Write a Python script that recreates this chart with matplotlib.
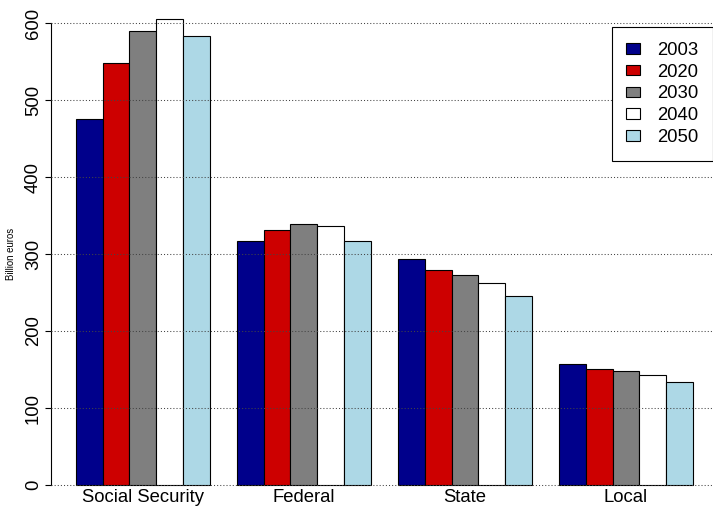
import numpy as np
import matplotlib
matplotlib.use("Agg")
import matplotlib.pyplot as plt
from matplotlib.patches import Patch

plt.rcParams["font.family"] = ["Liberation Sans", "DejaVu Sans"]

# spending by level of government, billion euros
categories = ["Social Security", "Federal", "State", "Local"]
years = ["2003", "2020", "2030", "2040", "2050"]
v2003 = [476, 317, 294, 157]
v2020 = [549, 331, 279, 151]
v2030 = [590, 339, 273, 148]
v2040 = [606, 336, 263, 143]
v2050 = [583, 317, 245, 134]
series = [v2003, v2020, v2030, v2040, v2050]
colors = ["#00008B", "#CD0000", "#7F7F7F", "#FFFFFF", "#ADD8E6"]
yticks = [0, 100, 200, 300, 400, 500, 600]

W, H = 713, 509
fig = plt.figure(figsize=(W / 100, H / 100), dpi=100)
ax = fig.add_axes([51 / W, 5.4 / H, (W - 51) / W, 503.6 / H])

# grouped bars: 5 bars of width 1 per group, one empty slot between groups
nser = len(series)
for i, (vals, col) in enumerate(zip(series, colors)):
    x = np.arange(len(categories)) * (nser + 1) + 1 + i
    ax.bar(x, vals, width=1.0, align="edge", color=col,
           edgecolor="black", linewidth=0.8, zorder=2)

centers = np.arange(len(categories)) * (nser + 1) + 1 + nser / 2
ax.set_xlim(0.08, 24.74)
ax.set_ylim(-24.24, 630.24)

# dotted reference lines drawn over the bars
for yv in yticks:
    ax.axhline(yv, color="#444444", linewidth=0.75, dashes=(1.0, 2.0), zorder=3)

ax.set_xticks(centers)
ax.set_xticklabels(categories, fontsize=13.3)
ax.tick_params(axis="x", length=0, pad=-10.3)
ax.set_yticks(yticks)
ax.set_yticklabels([str(t) for t in yticks], fontsize=13.3, rotation=90, va="center")
ax.tick_params(axis="y", length=4.5, width=0.8, pad=2)

for s in ["top", "right", "bottom"]:
    ax.spines[s].set_visible(False)
ax.spines["left"].set_bounds(0, 600)
ax.spines["left"].set_linewidth(0.8)

fig.text(11.5 / W, 1 - 254 / H, "Billion euros", rotation=90,
         fontsize=6.9, ha="center", va="center")

handles = [Patch(facecolor=c, edgecolor="black", linewidth=0.8) for c in colors]
leg = ax.legend(handles, years, loc="upper right", fontsize=13.3,
                bbox_to_anchor=(713 / W, 1 - 27 / H), bbox_transform=fig.transFigure,
                borderaxespad=0, borderpad=0.8, labelspacing=0.26,
                handlelength=0.76, handleheight=0.51, handletextpad=0.9,
                fancybox=False, framealpha=1, edgecolor="black")
leg.get_frame().set_linewidth(0.8)
leg.set_zorder(5)

fig.savefig("out.png", dpi=100)
